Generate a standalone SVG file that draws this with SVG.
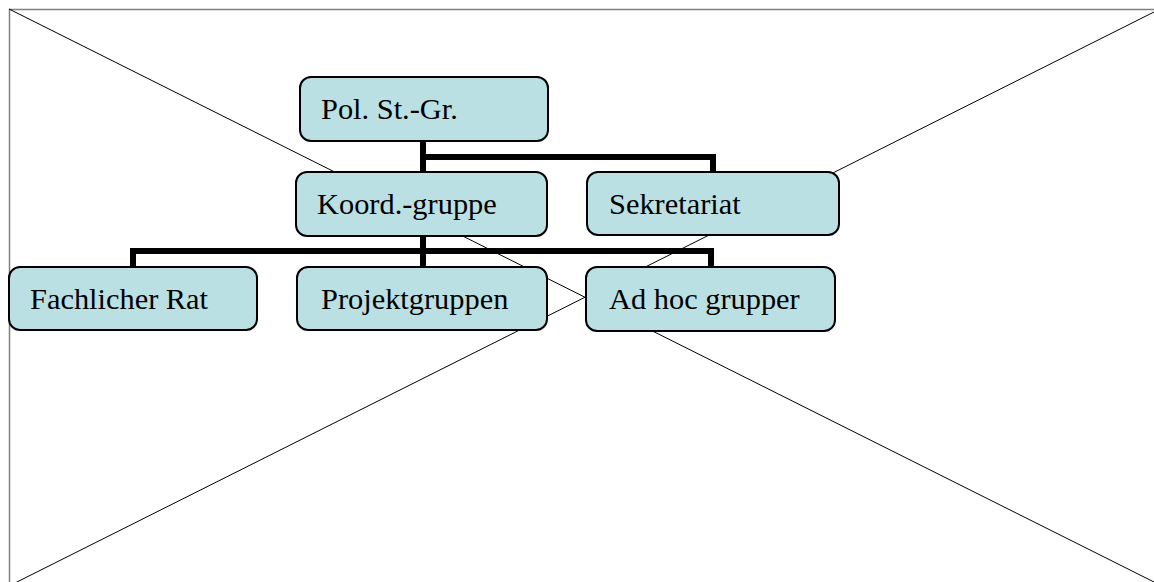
<svg xmlns="http://www.w3.org/2000/svg" width="1154" height="582" viewBox="0 0 1154 582">
<style>
.bg{fill:#fff}
.frame{fill:none;stroke:#808080;stroke-width:1.5}
.diag{stroke:#000;stroke-width:1;fill:none}
.box{fill:#bbe0e3;stroke:#000;stroke-width:2}
.lbl{font-family:"Liberation Serif","Times New Roman",serif;font-size:30.4px;fill:#000}
.conn{fill:none;stroke:#000;stroke-width:6;stroke-linejoin:miter}
</style>
<rect class="bg" x="0" y="0" width="1154" height="582"/>
<g id="placeholder">
<path class="frame" d="M9.5,590 V9.5 H1160"/>
<line class="diag" x1="9" y1="9" x2="1154" y2="582"/>
<line class="diag" x1="9" y1="586" x2="1154" y2="12"/>
</g>
<g id="connectors">
<path class="conn" d="M423,141 V172"/>
<path class="conn" d="M423,157 H713 V172"/>
<path class="conn" d="M423,236 V267"/>
<path class="conn" d="M133,267 V251 H711 V267"/>
</g>
<g id="pol">
<rect class="box" x="300" y="77" width="248" height="64" rx="11"/>
<text class="lbl" x="321" y="119">Pol. St.-Gr.</text>
</g>
<g id="koord">
<rect class="box" x="296" y="172" width="251" height="64" rx="11"/>
<text class="lbl" x="317" y="214">Koord.-gruppe</text>
</g>
<g id="sekretariat">
<rect class="box" x="587" y="172" width="252" height="63" rx="11"/>
<text class="lbl" x="609" y="214">Sekretariat</text>
</g>
<g id="fachlicher">
<rect class="box" x="9" y="267" width="248" height="63" rx="11"/>
<text class="lbl" x="30" y="309">Fachlicher Rat</text>
</g>
<g id="projekt">
<rect class="box" x="297" y="267" width="250" height="63" rx="11"/>
<text class="lbl" x="321" y="309">Projektgruppen</text>
</g>
<g id="adhoc">
<rect class="box" x="586" y="267" width="249" height="64" rx="11"/>
<text class="lbl" x="609" y="309">Ad hoc grupper</text>
</g>
</svg>
